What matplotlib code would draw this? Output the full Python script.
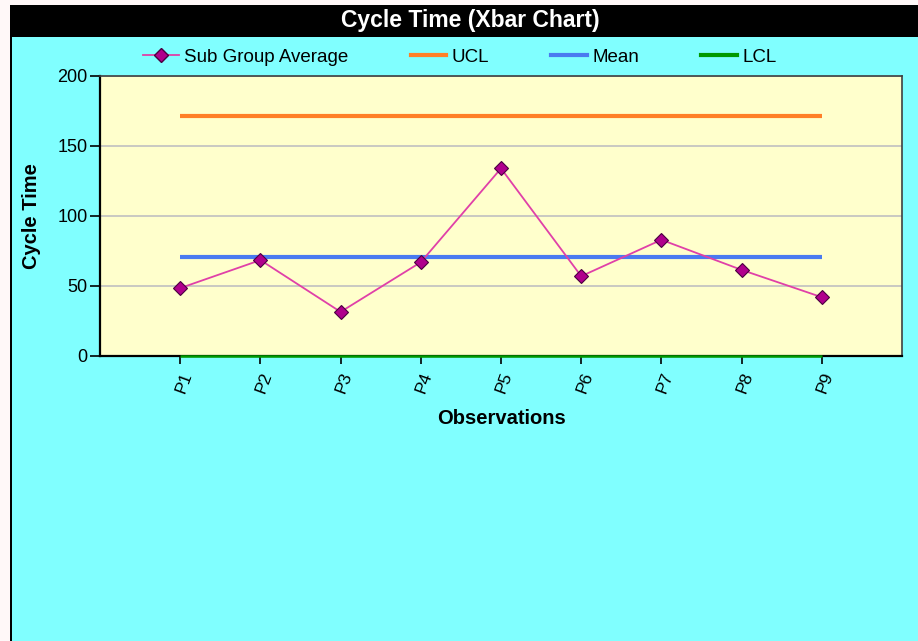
import numpy as np
import matplotlib
matplotlib.use("Agg")
import matplotlib.pyplot as plt
from matplotlib.patches import Rectangle
from matplotlib.lines import Line2D

plt.rcParams['font.family'] = ['Liberation Sans', 'DejaVu Sans']

# === DATOS ===
observaciones = ["P1", "P2", "P3", "P4", "P5", "P6", "P7", "P8", "P9"]
promedios = [48.5, 68.5, 31.5, 67, 134, 57, 83, 61.5, 42]
ucl = 171.4
media = 70.6
lcl = 0

W, H = 918, 641
fig = plt.figure(figsize=(W / 100, H / 100), dpi=100)
fig.patch.set_facecolor("#FFF8F8")

# fondo cian y barra de titulo
fig.add_artist(Rectangle((12 / W, 0), 1, 1 - 37 / H, transform=fig.transFigure,
                         facecolor="#80FFFF", edgecolor="none", zorder=-2))
fig.add_artist(Rectangle((9.5 / W, 0), 2.5 / W, 1 - 37 / H, transform=fig.transFigure,
                         facecolor="#000000", edgecolor="none", zorder=-1))
fig.add_artist(Rectangle((9.5 / W, 1 - 37 / H), 1, 32 / H, transform=fig.transFigure,
                         facecolor="#000000", edgecolor="none", zorder=-1))
fig.text(470 / W, 1 - 21 / H, "Cycle Time (Xbar Chart)", color="white",
         fontsize=16.5, fontweight="bold", ha="center", va="center")

ax = fig.add_axes([100 / W, (H - 356) / H, (902 - 100) / W, (356 - 76) / H])
ax.set_facecolor("#FFFFCC")

x = np.arange(1, len(observaciones) + 1)
ax.plot(x, promedios, color="#E040A8", lw=1.3, marker="D", ms=7,
        markerfacecolor="#B0008C", markeredgecolor="#4A0040", mew=0.8, zorder=5)
ax.plot([x[0], x[-1]], [ucl, ucl], color="#FF7F27", lw=3, solid_capstyle="butt", zorder=4)
ax.plot([x[0], x[-1]], [media, media], color="#4A7AF0", lw=3, solid_capstyle="butt", zorder=4)
ax.plot([x[0], x[-1]], [lcl, lcl], color="#009900", lw=1.8, solid_capstyle="butt",
        zorder=6, clip_on=False)

ax.set_xlim(0, 10)
ax.set_ylim(0, 200)
ax.set_yticks([0, 50, 100, 150, 200])
ax.set_xticks(x)
ax.set_xticklabels(observaciones, rotation=70, ha="right", va="top",
                   rotation_mode="anchor", fontsize=12.5)
ax.tick_params(axis="y", labelsize=13, length=7, width=1.2, pad=2)
ax.tick_params(axis="x", length=6, width=1.2, pad=4)
ax.grid(axis="y", color="#C0C0C0", lw=1.2)
ax.set_axisbelow(True)
for lado in ["left", "bottom"]:
    ax.spines[lado].set_linewidth(1.6)
    ax.spines[lado].set_color("#000000")
for lado in ["top", "right"]:
    ax.spines[lado].set_linewidth(1.2)
    ax.spines[lado].set_color("#404040")

ax.set_ylabel("Cycle Time", fontsize=14.5, fontweight="bold")
ax.yaxis.set_label_coords(-0.074, 0.5)
ax.set_xlabel("Observations", fontsize=14.5, fontweight="bold")
ax.xaxis.set_label_coords(0.5, -0.19)

handles = [
    Line2D([], [], color="#E040A8", lw=1.3, marker="D", ms=7,
           markerfacecolor="#B0008C", markeredgecolor="#4A0040"),
    Line2D([], [], color="#FF7F27", lw=3),
    Line2D([], [], color="#4A7AF0", lw=3),
    Line2D([], [], color="#009900", lw=3),
]
fig.legend(handles, ["Sub Group Average", "UCL", "Mean", "LCL"], loc="center",
           bbox_to_anchor=(460 / W, 1 - 57 / H), ncol=4, frameon=False,
           fontsize=13.5, handlelength=1.9, handletextpad=0.3, columnspacing=3.3)

fig.savefig("out.png", dpi=100)
